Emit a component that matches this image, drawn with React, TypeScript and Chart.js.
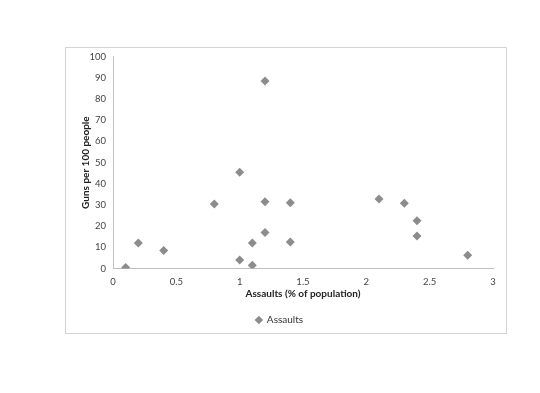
import React, { useEffect, useRef } from "react";
import { Chart, registerables } from "chart.js";

Chart.register(...registerables);

const assaultsX = [0.1, 0.2, 0.4, 0.8, 1.0, 1.0, 1.1, 1.1, 1.2, 1.2, 1.2, 1.4, 1.4, 2.1, 2.3, 2.4, 2.4, 2.8];
const gunsY = [0.5, 12, 8.5, 30.5, 45.5, 4, 12, 1.5, 88.5, 31.5, 17, 31, 12.5, 32.8, 30.8, 22.5, 15.3, 6.2];
const seriesName = "Assaults";
const xTitle = "Assaults (% of population)";
const yTitle = "Guns per 100 people";

const FONT = "Lato, 'Open Sans', sans-serif";
const MARKER = "#8c8c8c";

export default function App() {
  const ref = useRef<HTMLCanvasElement | null>(null);
  useEffect(() => {
    if (!ref.current) return;
    const chart = new Chart(ref.current, {
      type: "scatter",
      data: {
        datasets: [
          {
            label: seriesName,
            data: assaultsX.map((x, i) => ({ x, y: gunsY[i] })),
            pointStyle: "rectRot",
            pointRadius: 4.5,
            backgroundColor: MARKER,
            borderColor: MARKER,
            borderWidth: 0,
          },
        ],
      },
      options: {
        animation: false,
        responsive: false,
        maintainAspectRatio: false,
        layout: { padding: { left: 0, right: 13, top: 6, bottom: 0 } },
        plugins: {
          tooltip: { enabled: false },
          legend: {
            position: "bottom",
            labels: {
              usePointStyle: true,
              pointStyle: "rectRot",
              boxWidth: 6,
              boxHeight: 6,
              color: "#333",
              font: { family: FONT, size: 10 },
              padding: 5.5,
            },
          },
        },
        scales: {
          x: {
            type: "linear",
            min: 0,
            max: 3,
            ticks: {
              stepSize: 0.5,
              color: "#444",
              font: { family: FONT, size: 9.5 },
              padding: 8,
              callback: (v: any) => String(v),
            },
            grid: { color: "rgba(0,0,0,0)", drawTicks: false },
            border: { color: "#bfbfbf", width: 1 },
            title: {
              display: true,
              text: xTitle,
              color: "#222",
              font: { family: FONT, size: 10, weight: "bold" },
              padding: { top: 2, bottom: 10 },
            },
            afterFit: (s: any) => {
              s.height = 41;
            },
          },
          y: {
            type: "linear",
            min: 0,
            max: 100,
            ticks: { stepSize: 10, color: "#444", font: { family: FONT, size: 9.5 }, padding: 7 },
            grid: { color: "rgba(0,0,0,0)", drawTicks: false },
            border: { color: "#bfbfbf", width: 1 },
            title: {
              display: true,
              text: yTitle,
              color: "#222",
              font: { family: FONT, size: 10, weight: "bold" },
              padding: { top: 14, bottom: 0 },
            },
            afterFit: (s: any) => {
              s.width = 47;
            },
          },
        },
      },
    });
    return () => chart.destroy();
  }, []);

  return (
    <div style={{ position: "absolute", left: 0, top: 0, width: 540, height: 393, background: "#fff" }}>
      <div
        style={{
          position: "absolute",
          left: 65,
          top: 47,
          width: 442,
          height: 287,
          border: "1px solid #d4d4d4",
          boxSizing: "border-box",
        }}
      />
      <canvas
        ref={ref}
        width={440}
        height={291}
        style={{ display: "block", position: "absolute", left: 66, top: 44 }}
      />
    </div>
  );
}
